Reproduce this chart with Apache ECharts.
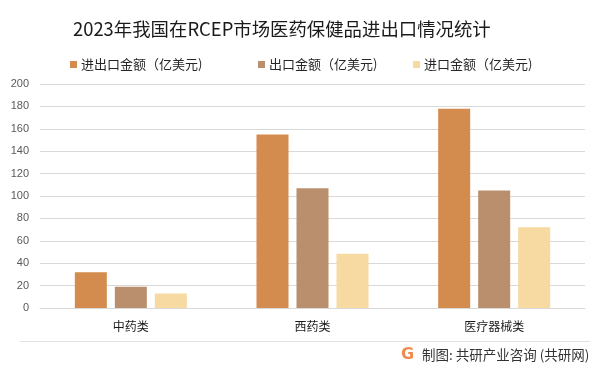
<!DOCTYPE html>
<html>
<head>
<meta charset="utf-8">
<script src="https://cdn.jsdelivr.net/npm/echarts@6/dist/echarts.min.js"></script>
<style>
html,body{margin:0;padding:0;background:#fff;}
#main{width:600px;height:370px;}
</style>
</head>
<body>
<div id="main"></div>
<script>
const categories = ['中药类', '西药类', '医疗器械类'];
const seriesNames = ['进出口金额（亿美元)', '出口金额（亿美元)', '进口金额（亿美元)'];
const totalValues = [32, 155, 178];
const exportValues = [19, 107, 105];
const importValues = [13, 48.5, 72];
const yTicks = [0, 20, 40, 60, 80, 100, 120, 140, 160, 180, 200];
const colors = ['#D38C4D', '#BA8F6D', '#F7D9A2'];

const FONT = '"Noto Sans CJK SC", "Noto Sans", sans-serif';
const chart = echarts.init(document.getElementById('main'), null, {renderer: 'canvas'});

const legendLefts = [70, 258, 413];
const allValues = [totalValues, exportValues, importValues];

chart.setOption({
  backgroundColor: '#ffffff',
  animation: false,
  title: {
    text: '2023年我国在RCEP市场医药保健品进出口情况统计',
    left: 73,
    top: 20,
    padding: 0,
    textStyle: {fontFamily: FONT, fontSize: 18.4, fontWeight: 'normal', color: '#1a1a1a'}
  },
  legend: seriesNames.map((n, i) => ({
    data: [n],
    left: legendLefts[i],
    top: 58,
    padding: 0,
    icon: 'rect',
    itemWidth: 7,
    itemHeight: 7,
    textStyle: {fontFamily: FONT, fontSize: 13, color: '#262626', padding: [0, 0, 0, -1]}
  })),
  grid: {left: 40, right: 15, top: 84, bottom: 62},
  xAxis: {
    type: 'category',
    data: categories,
    axisTick: {show: false},
    axisLine: {lineStyle: {color: '#d9d9d9'}},
    axisLabel: {fontFamily: FONT, fontSize: 12, color: '#1a1a1a', margin: 12}
  },
  yAxis: {
    type: 'value',
    min: yTicks[0],
    max: yTicks[yTicks.length - 1],
    interval: yTicks[1] - yTicks[0],
    axisLine: {show: false},
    axisTick: {show: false},
    splitLine: {lineStyle: {color: '#d9d9d9'}},
    axisLabel: {fontFamily: '"Liberation Sans", sans-serif', fontSize: 11, color: '#595959', margin: 11}
  },
  series: seriesNames.map((n, i) => ({
    name: n,
    type: 'bar',
    data: allValues[i],
    barWidth: 32,
    barGap: '25%',
    itemStyle: {color: colors[i]}
  })),
  graphic: [
    {
      type: 'line',
      shape: {x1: 20, y1: 341.5, x2: 590, y2: 341.5},
      style: {stroke: '#e3e3e3', lineWidth: 1}
    },
    {
      type: 'text',
      left: 401,
      top: 347,
      style: {
        text: 'G',
        fontFamily: '"DejaVu Sans", sans-serif',
        fontWeight: 'bold',
        fontSize: 16,
        fill: '#F08A4E'
      }
    },
    {
      type: 'text',
      left: 422,
      top: 348,
      style: {
        text: '制图: 共研产业咨询 (共研网)',
        fontFamily: FONT,
        fontSize: 13.5,
        fill: '#333333'
      }
    }
  ]
});
</script>
</body>
</html>
